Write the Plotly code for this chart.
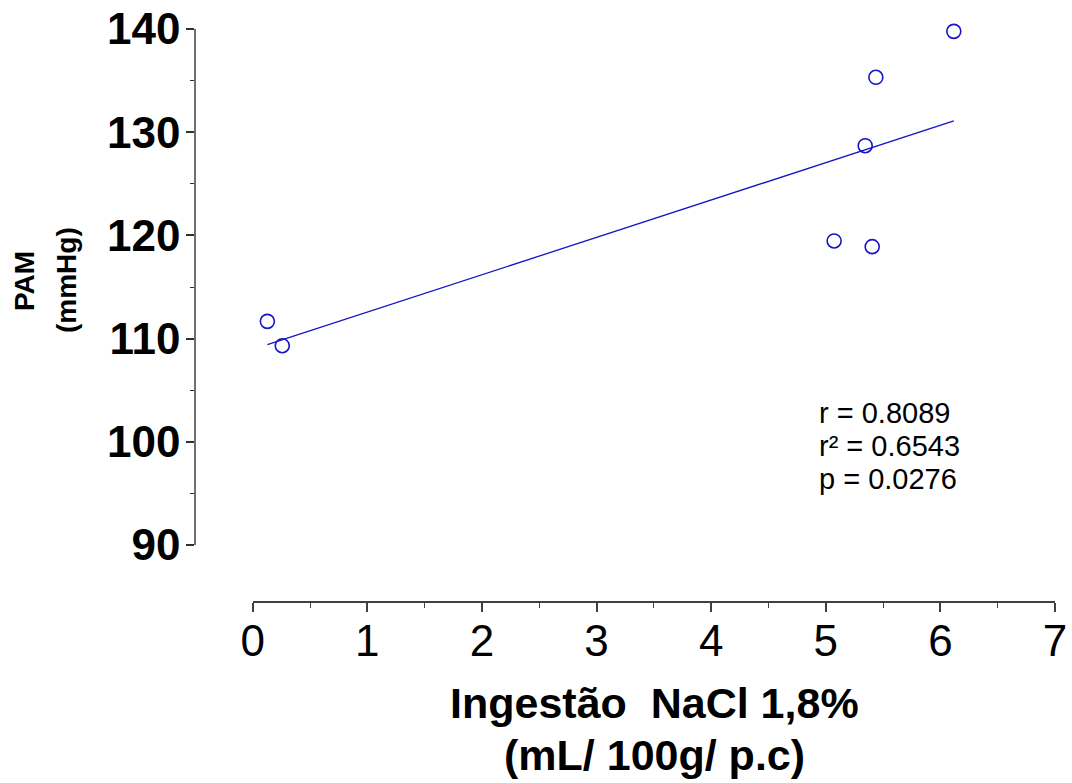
import numpy as np
import plotly.graph_objects as go

# Data
ingestao_nacl = [0.128, 0.258, 5.073, 5.344, 5.405, 5.437, 6.117]
pam_mmhg = [111.67, 109.31, 119.46, 128.69, 118.91, 135.32, 139.77]
x_ticks = [0, 1, 2, 3, 4, 5, 6, 7]
y_ticks = [90, 100, 110, 120, 130, 140]
stats_lines = ["r = 0.8089", "r\u00b2 = 0.6543", "p = 0.0276"]

# linear fit over the observed x range
slope, intercept = np.polyfit(ingestao_nacl, pam_mmhg, 1)
fit_x = [min(ingestao_nacl), max(ingestao_nacl)]
fit_y = [slope * v + intercept for v in fit_x]

W, H = 1072, 783
L, R, T, B = 195, 17, 29, 181
PW = W - L - R
PH = H - T - B

def px_x(p):
    return (p - L) / PW

def px_y(p):
    return (H - B - p) / PH

BLUE = "#1414c8"
FONT = "Liberation Sans, Arial, sans-serif"

fig = go.Figure()
fig.add_trace(go.Scatter(
    x=fit_x, y=fit_y, mode="lines",
    line=dict(color=BLUE, width=1.3),
    showlegend=False, hoverinfo="skip",
))
fig.add_trace(go.Scatter(
    x=ingestao_nacl, y=pam_mmhg, mode="markers",
    marker=dict(symbol="circle-open", size=14, color=BLUE, line=dict(width=1.6, color=BLUE)),
    showlegend=False, cliponaxis=False,
))

x_dom0 = px_x(252.7)
y_dom0 = px_y(545)

fig.update_layout(
    width=W, height=H,
    margin=dict(l=L, r=R, t=T, b=B, pad=0, autoexpand=False),
    paper_bgcolor="white", plot_bgcolor="white",
    font=dict(family=FONT, color="black"),
    xaxis=dict(
        domain=[x_dom0, 1], range=[0, 7], anchor="free", position=0, automargin=False,
        tickmode="array", tickvals=x_ticks, ticktext=[str(v) for v in x_ticks],
        showgrid=False, zeroline=False,
        showline=True, linecolor="#404040", linewidth=1.5,
        ticks="outside", ticklen=9, tickwidth=1.5, tickcolor="#404040",
        minor=dict(dtick=0.5, tick0=0, ticks="outside", ticklen=5, tickwidth=1.2, tickcolor="#404040", showgrid=False),
        tickfont=dict(family=FONT, size=44, color="black"),
        ticklabelstandoff=-9,
    ),
    yaxis=dict(
        domain=[y_dom0, 1], range=[90, 140], anchor="free", position=0, automargin=False,
        tickmode="array", tickvals=y_ticks, ticktext=[str(v) for v in y_ticks],
        showgrid=False, zeroline=False,
        showline=True, linecolor="#707070", linewidth=1.5,
        ticks="outside", ticklen=8, tickwidth=1.5, tickcolor="#303030",
        minor=dict(dtick=5, tick0=0, ticks="outside", ticklen=4, tickwidth=1.2, tickcolor="#303030", showgrid=False),
        tickfont=dict(family=FONT, size=44, color="black", weight="bold"),
        ticklabelstandoff=-3,
    ),
)

annotations = [
    dict(text="PAM", x=px_x(24), y=px_y(281), textangle=-90,
         font=dict(family=FONT, size=28, weight="bold")),
    dict(text="(mmHg)", x=px_x(66), y=px_y(280), textangle=-90,
         font=dict(family=FONT, size=28, weight="bold")),
    dict(text="Ingestão  NaCl 1,8%", x=px_x(654), y=px_y(703),
         font=dict(family=FONT, size=43, weight="bold")),
    dict(text="(mL/ 100g/ p.c)", x=px_x(654), y=px_y(755),
         font=dict(family=FONT, size=43, weight="bold")),
]
for i, (line, yc) in enumerate(zip(stats_lines, [413, 446, 479])):
    annotations.append(dict(text=line, x=px_x(817), y=px_y(yc), xanchor="left",
                            font=dict(family=FONT, size=29)))

for a in annotations:
    a.setdefault("xanchor", "center")
    a.update(xref="paper", yref="paper", yanchor="middle", showarrow=False)
fig.update_layout(annotations=annotations)

fig.write_html("out.html", config={"displayModeBar": False},
               post_script="document.body.style.margin='0';document.body.style.overflow='hidden';")
